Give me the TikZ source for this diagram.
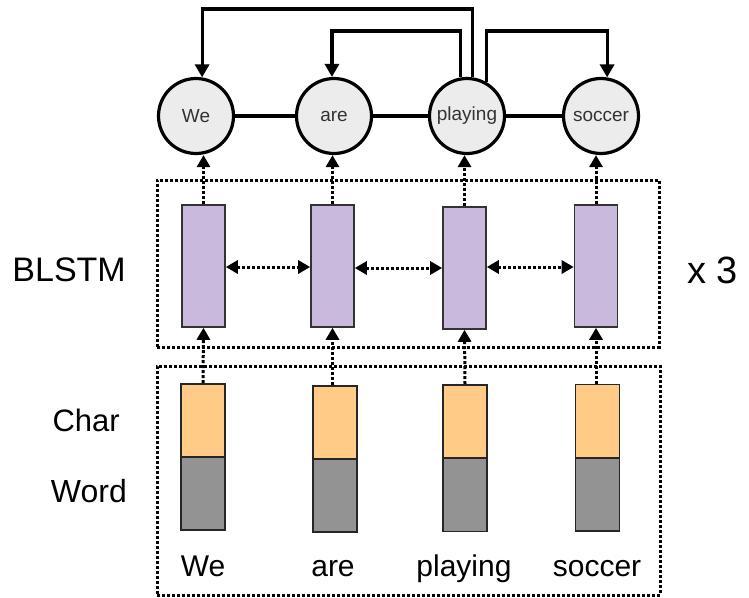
\documentclass[tikz,border=0pt]{standalone}
\usepackage{fontspec}
\setmainfont{Liberation Sans}
\usetikzlibrary{arrows.meta}

\definecolor{lstmfill}{HTML}{C9B9DC}
\definecolor{charfill}{HTML}{FFCB87}
\definecolor{wordfill}{HTML}{939393}
\definecolor{tokenfill}{HTML}{ECECEC}
\definecolor{darkedge}{HTML}{333333}
\newcommand{\fsz}[1]{\fontsize{#1}{#1}\selectfont}

\begin{document}
\begin{tikzpicture}[x=1pt,y=-1pt,
  token/.style={circle,draw=black,line width=3.2pt,fill=tokenfill,minimum size=75pt,
    inner sep=0pt,text=darkedge,font=\fsz{19}},
  lstmcell/.style={rectangle,draw=darkedge,line width=1.6pt,fill=lstmfill,
    minimum width=43pt,minimum height=122pt,inner sep=0pt},
  charcell/.style={rectangle,draw=black!85,line width=1.6pt,fill=charfill,
    minimum width=44pt,minimum height=73pt,inner sep=0pt},
  wordcell/.style={rectangle,draw=black!85,line width=1.6pt,fill=wordfill,
    minimum width=44pt,minimum height=73pt,inner sep=0pt},
  frame/.style={rectangle,draw=black,line width=3pt,dash pattern=on 3pt off 2pt,inner sep=0pt},
  dep/.style={line width=3.2pt,-{Triangle[width=14pt,length=13pt]}},
  flow/.style={line width=3pt,dash pattern=on 3pt off 2pt,-{Triangle[width=13pt,length=12pt]}},
  link/.style={line width=3pt,dash pattern=on 3pt off 2pt,
    {Triangle[width=13pt,length=12pt]}-{Triangle[width=13pt,length=12pt]}},
  plain/.style={line width=3.2pt},
  lbl/.style={inner sep=0pt}]

\useasboundingbox (0,0) rectangle (749,597);

% dotted frames around the two layers
\node[frame,minimum width=502pt,minimum height=167pt] (fl) at (408,263.5) {};
\node[frame,minimum width=503pt,minimum height=229pt] (fe) at (408.5,480.5) {};

% word tokens on top
\node[token] (w1) at (196,116) {We};
\node[token] (w2) at (334,116) {are};
\node[token] (w3) at (467,116) {playing};
\node[token] (w4) at (601,116) {soccer};

\draw[plain] (w1) -- (w2);
\draw[plain] (w2) -- (w3);
\draw[plain] (w3) -- (w4);

% dependency arcs from the head word
\draw[dep] (w3.82) -- (w3.82 |- 0,9) -| (w1.81);
\draw[dep] (w3.100) -- (w3.100 |- 0,31) -| (w2.93);
\draw[dep] (w3.60) -- (w3.60 |- 0,31) -| (w4.81);

% BLSTM cells
\node[lstmcell] (b1) at (203.5,266) {};
\node[lstmcell] (b2) at (332.5,266) {};
\node[lstmcell] (b3) at (464.5,268) {};
\node[lstmcell] (b4) at (596,266) {};

\draw[link] (b1.east |- 0,267) -- (b2.west |- 0,267);
\draw[link] (b2.east |- 0,268) -- (b3.west |- 0,268);
\draw[link] (b3.east |- 0,267) -- (b4.west |- 0,267);

% character and word embeddings
\node[charcell] (c1) at (203,420.5) {};
\node[wordcell] (e1) at (203,493.5) {};
\node[charcell] (c2) at (335,422.5) {};
\node[wordcell] (e2) at (335,495.5) {};
\node[charcell] (c3) at (465,421.5) {};
\node[wordcell] (e3) at (465,495) {};
\node[charcell] (c4) at (597.5,421) {};
\node[wordcell] (e4) at (597.5,494.5) {};

% flow: embeddings -> BLSTM -> tokens
\draw[flow] (c1.north) -- (b1.south);
\draw[flow] (b2.south |- c2.north) -- (b2.south);
\draw[flow] (c3.north) -- (b3.south);
\draw[flow] (b4.south |- c4.north) -- (b4.south);

\draw[flow] (b1.north) -- (b1.north |- w1.south);
\draw[flow] (b2.north) -- (b2.north |- w2.south);
\draw[flow] (b3.north) -- (b3.north |- w3.south);
\draw[flow] (b4.north) -- (b4.north |- w4.south);

% text labels
\node[lbl,anchor=base east,font=\fsz{34}] (tl) at (126,281) {BLSTM};
\node[lbl,anchor=base east,font=\fsz{31}] (tc) at (120,431) {Char};
\node[lbl,anchor=base east,font=\fsz{32}] (tw) at (127,502) {Word};
\node[lbl,anchor=base west,font=\fsz{38}] (tx) at (687,283) {x 3};

\node[lbl,anchor=base,font=\fsz{30}] (s1) at (203,576) {We};
\node[lbl,anchor=base,font=\fsz{30}] (s2) at (333,576) {are};
\node[lbl,anchor=base,font=\fsz{30}] (s3) at (464,576) {playing};
\node[lbl,anchor=base,font=\fsz{30}] (s4) at (597,576) {soccer};
\end{tikzpicture}
\end{document}
